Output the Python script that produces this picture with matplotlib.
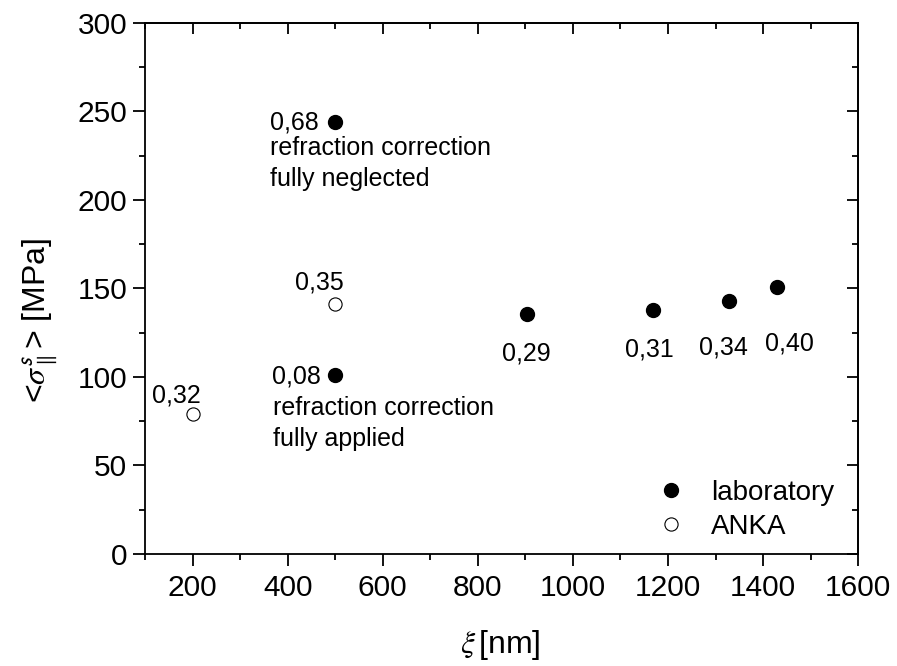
import matplotlib
matplotlib.use("Agg")
from matplotlib import pyplot as plt
from matplotlib.ticker import MultipleLocator

plt.rcParams['font.family'] = ['Liberation Sans', 'DejaVu Sans']
plt.rcParams['mathtext.fontset'] = 'stix'

# laboratory (filled) and ANKA (open) points
lab_x = [500, 500, 903, 1168, 1329, 1429]
lab_y = [244, 101, 135.5, 137.7, 142.8, 150.6]
lab_lbl = ["0,68", "0,08", "0,29", "0,31", "0,34", "0,40"]
anka_x = [200, 500]
anka_y = [79, 141]
anka_lbl = ["0,32", "0,35"]
notes = [["refraction correction", "fully neglected"],
         ["refraction correction", "fully applied"]]

fig = plt.figure(figsize=(8.97, 6.66), dpi=100)
ax = fig.add_axes([0.1617, 0.1682, 0.795, 0.7973])

ax.plot(lab_x, lab_y, 'o', color='black', ms=10, ls='none', label='laboratory')
ax.plot(anka_x, anka_y, 'o', mfc='white', mec='black', mew=0.8, ms=9.5, ls='none', label='ANKA')

lw = 1.3
ax.set_xlim(100, 1600)
ax.set_ylim(0, 300)
ax.xaxis.set_major_locator(MultipleLocator(200))
ax.xaxis.set_minor_locator(MultipleLocator(100))
ax.yaxis.set_major_locator(MultipleLocator(50))
ax.yaxis.set_minor_locator(MultipleLocator(25))
ax.tick_params(which='both', direction='out', labelsize=21.5, width=lw)
ax.tick_params(which='major', length=8.4)
ax.tick_params(which='minor', length=4.1)
ax.tick_params(axis='x', which='major', pad=6)
ax.tick_params(axis='y', which='major', pad=4.5)
for s in ax.spines.values():
    s.set_linewidth(lw)

# mirrored axes, ticks pointing inside
top = ax.secondary_xaxis('top')
top.xaxis.set_major_locator(MultipleLocator(200))
top.xaxis.set_minor_locator(MultipleLocator(100))
top.tick_params(which='both', direction='in', labeltop=False, width=lw)
top.tick_params(which='major', length=7.7)
top.tick_params(which='minor', length=4.1)
top.spines['top'].set_linewidth(lw)
right = ax.secondary_yaxis('right')
right.yaxis.set_major_locator(MultipleLocator(50))
right.yaxis.set_minor_locator(MultipleLocator(25))
right.tick_params(which='both', direction='in', labelright=False, width=lw)
right.tick_params(which='major', length=7.7)
right.tick_params(which='minor', length=4.1)
right.spines['right'].set_linewidth(lw)

fs = 18
# value labels: (dx, dy) of the baseline in pixels, horizontal alignment
lab_off = [(-16, -7, 'right'), (-14, -8, 'right'), (0, -46, 'center'),
           (-3, -46, 'center'), (-6, -53, 'center'), (13, -63, 'center')]
anka_off = [(-16, 12, 'center'), (-16, 15, 'center')]
for x, y, t, (dx, dy, ha) in zip(lab_x, lab_y, lab_lbl, lab_off):
    ax.annotate(t, (x, y), xytext=(dx, dy), textcoords='offset pixels',
                ha=ha, va='baseline', fontsize=fs)
for x, y, t, (dx, dy, ha) in zip(anka_x, anka_y, anka_lbl, anka_off):
    ax.annotate(t, (x, y), xytext=(dx, dy), textcoords='offset pixels',
                ha=ha, va='baseline', fontsize=fs)

note_off = [(-65, -33), (-62, -40)]
for k, (dx, dy) in enumerate(note_off):
    for j, line in enumerate(notes[k]):
        ax.annotate(line, (lab_x[k], lab_y[k]), xytext=(dx, dy - 31 * j),
                    textcoords='offset pixels', ha='left', va='baseline', fontsize=fs)

ax.set_xlabel(r'$\xi\,$[nm]', fontsize=23)
ax.xaxis.set_label_coords(0.498, -0.139)
ax.set_ylabel(r'<$\sigma^{\mathsf{s}}_{\parallel}$> [MPa]', fontsize=23)
ax.yaxis.set_label_coords(-0.12, 0.44)

ax.legend(loc='upper left', bbox_to_anchor=(0.698, 0.140), frameon=False, fontsize=20,
          handletextpad=0.45, borderaxespad=0, borderpad=0, labelspacing=0.3)

fig.savefig("out.png", dpi=100)
